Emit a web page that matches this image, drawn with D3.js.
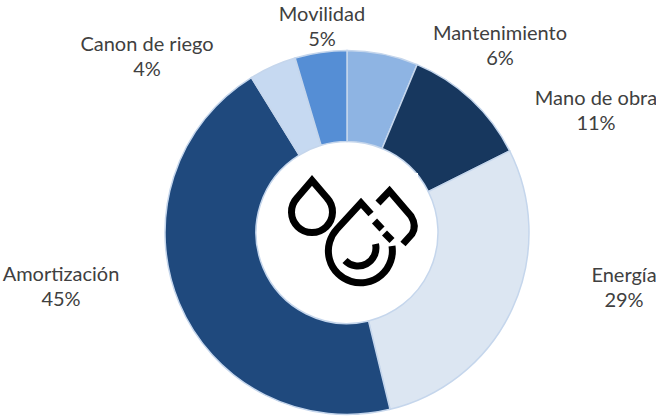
<!DOCTYPE html>
<html><head><meta charset="utf-8">
<script src="https://cdn.jsdelivr.net/npm/d3@7"></script>
<style>html,body{margin:0;padding:0;background:#fff;overflow:hidden}svg{display:block}</style>
</head><body><svg id="c" width="656" height="416"></svg>
<script>
const categories = ["Mantenimiento","Mano de obra","Energía","Amortización","Canon de riego","Movilidad"];
const shares = [6.3,11.3,28.6,45.0,4.2,4.6];
const percentLabels = ["6%","11%","29%","45%","4%","5%"];
const colours = ["#8eb4e3","#17375e","#dce6f2","#1f497d","#c6d9f1","#558ed5"];
const labelCentres = [[500,40],[596,105],[624,282],[61,281],[147,51],[322,21]];

const svg = d3.select("#c");
const cx = 347, cy = 232.5;
const pie = d3.pie().sort(null).value(d=>d);
const arc = d3.arc().innerRadius(91).outerRadius(182);
svg.append("g").attr("transform",`translate(${cx},${cy})`)
  .selectAll("path").data(pie(shares)).join("path")
  .attr("d",arc).attr("fill",(d,i)=>colours[i])
  .attr("stroke","#c5d6ec").attr("stroke-width",1.5);

svg.append("rect").attr("x",402).attr("y",173).attr("width",16).attr("height",16).attr("fill","#fff");

// droplet icon
const icon = svg.append("g").attr("fill","none").attr("stroke","#000").attr("stroke-width",7);
const P = d => icon.append("path").attr("d",d);
P("M312 180.5 L297 198 A20.5 20.5 0 1 0 327 198 Z").attr("stroke-linejoin","miter");
P("M371 214 L361 203 L337 229 A32 32 0 1 0 392 246");
P("M374.5 221 L382 229");
P("M384.5 233 L392 240.5");
P("M345 260.5 A18 18 0 0 0 375.5 244");
P("M378 203 L389.5 191 L411 216 Q417 226 412 234 L403 244");

svg.append("g").selectAll("text").data(categories).join("text")
  .attr("x",(d,i)=>labelCentres[i][0]).attr("y",(d,i)=>labelCentres[i][1])
  .attr("text-anchor","middle").attr("fill","#404040")
  .attr("font-family","Lato, 'Open Sans', sans-serif").attr("font-size",20)
  .each(function(d,i){
    const t = d3.select(this);
    t.append("tspan").attr("x",labelCentres[i][0]).text(d);
    t.append("tspan").attr("x",labelCentres[i][0]).attr("dy",25).text(percentLabels[i]);
  });
</script></body></html>
